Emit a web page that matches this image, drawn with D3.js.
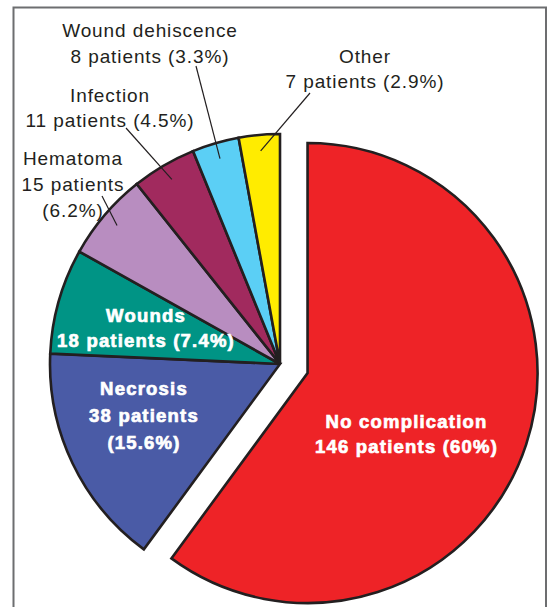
<!DOCTYPE html>
<html>
<head>
<meta charset="utf-8">
<script src="https://cdn.jsdelivr.net/npm/d3@7"></script>
<style>
  body { margin: 0; background: #fff; }
  svg { display: block; }
  .lbl { font-family: "Liberation Sans", Arial, sans-serif; font-size: 19px; letter-spacing: 0.9px; fill: #231f20; }
  .inlbl { font-family: "Liberation Sans", Arial, sans-serif; font-size: 18.5px; font-weight: bold; letter-spacing: 1.2px; fill: #fff; stroke: #fff; stroke-width: 0.7px; }
</style>
</head>
<body>
<div id="chart"></div>
<script>
// data
var categories = ["No complication", "Necrosis", "Wounds", "Hematoma", "Infection", "Wound dehiscence", "Other"];
var patients = [146, 38, 18, 15, 11, 8, 7];
var percents = ["60%", "15.6%", "7.4%", "6.2%", "4.5%", "3.3%", "2.9%"];
var colors = ["#ee2327", "#4a5ba6", "#009485", "#b88dc0", "#a12a5e", "#5bcff5", "#ffec00"];

// label text lines (inside labels are white/bold, outside have leader lines)
var labelLines = [
  ["No complication", "146 patients (60%)"],
  ["Necrosis", "38 patients", "(15.6%)"],
  ["Wounds", "18 patients (7.4%)"],
  ["Hematoma", "15 patients", "(6.2%)"],
  ["Infection", "11 patients (4.5%)"],
  ["Wound dehiscence", "8 patients (3.3%)"],
  ["Other", "7 patients (2.9%)"]
];

var width = 549, height = 607;
var cx = 280, cy = 364, radius = 230, explode = 29;

var svg = d3.select("#chart").append("svg")
  .attr("width", width)
  .attr("height", height);

// frame
svg.append("rect")
  .attr("x", 13.5).attr("y", 7.5)
  .attr("width", 532.5).attr("height", 640)
  .attr("fill", "none")
  .attr("stroke", "#6d6e70")
  .attr("stroke-width", 2);

var data = categories.map(function(c, i) {
  return {name: c, value: patients[i], color: colors[i], lines: labelLines[i], idx: i};
});

var pie = d3.pie().sort(null).value(d => d.value).startAngle(0).endAngle(2 * Math.PI);
var arcs = pie(data);

var arc = d3.arc().innerRadius(0).outerRadius(radius);
var leaderArc = d3.arc().innerRadius(radius * 0.93).outerRadius(radius * 0.93);

var g = svg.append("g").attr("transform", "translate(" + cx + "," + cy + ")");

function offset(d) {
  if (d.index !== 0) return [0, 0];
  var a = (d.startAngle + d.endAngle) / 2;
  return [Math.sin(a) * explode, -Math.cos(a) * explode];
}

g.selectAll(".slice")
  .data(arcs)
  .enter().append("path")
  .attr("class", "slice")
  .attr("d", arc)
  .attr("transform", d => "translate(" + offset(d) + ")")
  .attr("fill", d => d.data.color)
  .attr("stroke", "#231f20")
  .attr("stroke-width", 2.6)
  .attr("stroke-linejoin", "miter");

// inside labels: position relative to slice vertex (layout only)
var inside = {
  0: {x: 99, y: 55, lh: 25},
  1: {x: -136, y: 31, lh: 27},
  2: {x: -134, y: -42, lh: 25}
};
// outside labels: text center, first baseline, leader start
var outside = {
  3: {x: 73, y: 165, lh: 26, lx: 102, ly: 196},
  4: {x: 110, y: 102, lh: 25, lx: 126, ly: 128},
  5: {x: 150, y: 37, lh: 26, lx: 196, ly: 66},
  6: {x: 365, y: 63, lh: 25, lx: 310, ly: 93}
};

arcs.forEach(function(d) {
  var i = d.index;
  if (inside[i]) {
    var p = inside[i];
    var o = offset(d);
    var t = svg.append("text").attr("class", "inlbl").attr("text-anchor", "middle");
    d.data.lines.forEach(function(line, k) {
      t.append("tspan")
        .attr("x", cx + o[0] + p.x)
        .attr("y", cy + o[1] + p.y + k * p.lh)
        .text(line);
    });
  } else if (outside[i]) {
    var q = outside[i];
    var c = leaderArc.centroid(d);
    svg.append("line")
      .attr("x1", q.lx).attr("y1", q.ly)
      .attr("x2", cx + c[0]).attr("y2", cy + c[1])
      .attr("stroke", "#231f20")
      .attr("stroke-width", 1.2);
    var t2 = svg.append("text").attr("class", "lbl").attr("text-anchor", "middle");
    d.data.lines.forEach(function(line, k) {
      t2.append("tspan")
        .attr("x", q.x)
        .attr("y", q.y + k * q.lh)
        .text(line);
    });
  }
});
</script>
</body>
</html>
